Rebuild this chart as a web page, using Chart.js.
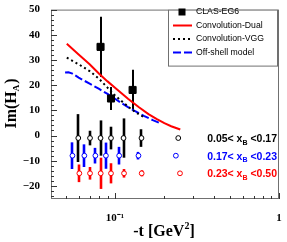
<!DOCTYPE html>
<html>
<head>
<meta charset="utf-8">
<script src="https://cdn.jsdelivr.net/npm/chart.js@4.4.1/dist/chart.umd.min.js"></script>
<style>
  html, body { margin: 0; padding: 0; background: #fff; }
</style>
</head>
<body>
<canvas id="grafico" width="287" height="242"></canvas>
<script>
// datos CLAS-EG6
const clasT = [0.0816, 0.0945, 0.128];
const clasImH = [35.2, 14.7, 18.1];
const clasErr = [12.0, 4.6, 8.0];

// modelos
const dualT = [0.0508, 0.06, 0.07, 0.08, 0.09, 0.1, 0.11, 0.12, 0.14, 0.16, 0.18, 0.2, 0.22, 0.25];
const dualImH = [36.4, 32.2, 28.3, 24.5, 21.5, 19.0, 16.7, 14.6, 11.2, 8.5, 6.5, 4.9, 3.7, 2.4];
const vggT = [0.0508, 0.06, 0.07, 0.08, 0.09, 0.1, 0.11, 0.12, 0.13, 0.14, 0.15];
const vggImH = [30.9, 28.3, 25.6, 22.5, 19.0, 15.9, 13.6, 11.5, 9.8, 8.4, 7.3];
const offT = [0.0496, 0.052, 0.055, 0.06, 0.07, 0.08, 0.09, 0.1, 0.11, 0.12, 0.13, 0.15, 0.17, 0.19];
const offImH = [25.0, 25.1, 24.6, 23.0, 20.6, 18.5, 16.5, 14.6, 12.8, 11.3, 10.0, 7.8, 6.1, 4.8];

// bines en xB (desplazados en el eje y)
const bin1T = [0.0597, 0.0704, 0.0816, 0.0945, 0.1127, 0.145, 0.243];
const bin1Y = [-1, -1, -1, -1, -1, -1, -1];
const bin1Err = [9.5, 2.9, 7.0, 4.5, 7.8, 3.5, 0];
const bin2T = [0.055, 0.065, 0.0759, 0.088, 0.106, 0.139, 0.235];
const bin2Y = [-8, -8, -8, -8, -8, -8, -8];
const bin2Err = [5.3, 4.5, 3.1, 5.2, 3.5, 1.5, 0];
const bin3T = [0.0606, 0.0704, 0.0818, 0.0945, 0.1135, 0.1454, 0.249];
const bin3Y = [-15, -15, -15, -15, -15, -15, -15];
const bin3Err = [3.5, 2.5, 6.2, 4.0, 1.7, 1.2, 0];
const binLabels = ["0.05< x|B| <0.17", "0.17< x|B| <0.23", "0.23< x|B| <0.50"];

// ticks
const ticksX = [0.05, 0.06, 0.07, 0.08, 0.09, 0.1, 0.2, 0.3, 0.4, 0.5, 0.6, 0.7, 0.8, 0.9, 1];
const ticksY = [];
for (let v = -24; v <= 50; v += 2) ticksY.push(v);

const pares = (xs, ys) => xs.map((t, i) => ({ x: t, y: ys[i] }));

const circulo = (color, data, err) => ({
  label: "",
  data: data,
  errY: err,
  errColor: color,
  errWidth: 2.6,
  pointStyle: "circle",
  pointRadius: 2.4,
  pointBorderWidth: 1,
  pointBorderColor: color,
  pointBackgroundColor: "#fff",
  showLine: false,
});

const serif = '"Liberation Serif", "Times New Roman", serif';
const sans = '"Liberation Sans", Arial, sans-serif';

const marco = {
  id: "marco",
  beforeDatasetsDraw(chart) {
    const { ctx, scales: { x, y } } = chart;
    chart.data.datasets.forEach((ds) => {
      if (!ds.errY) return;
      ctx.save();
      ctx.strokeStyle = ds.errColor;
      ctx.lineWidth = ds.errWidth;
      ds.data.forEach((p, i) => {
        const e = ds.errY[i];
        if (!e) return;
        const px = Math.round(x.getPixelForValue(p.x));
        ctx.beginPath();
        ctx.moveTo(px, y.getPixelForValue(p.y + e));
        ctx.lineTo(px, y.getPixelForValue(p.y - e));
        ctx.stroke();
      });
      ctx.restore();
    });
  },
  afterDraw(chart) {
    const { ctx, chartArea: a, scales: { x, y } } = chart;
    ctx.save();
    // caja
    ctx.strokeStyle = "#707070";
    ctx.lineWidth = 1;
    ctx.strokeRect(a.left + 0.5, a.top + 0.5, a.width - 1, a.height - 1);
    // ticks hacia dentro
    ctx.strokeStyle = "#333";
    ctx.beginPath();
    y.ticks.forEach((t) => {
      const py = Math.round(y.getPixelForValue(t.value)) + 0.5;
      const len = t.value % 10 === 0 ? 6 : 3;
      ctx.moveTo(a.left, py);
      ctx.lineTo(a.left + len, py);
    });
    x.ticks.forEach((t) => {
      const px = Math.round(x.getPixelForValue(t.value)) + 0.5;
      const len = t.value === 0.1 || t.value === 1 ? 6 : 3;
      ctx.moveTo(px, a.bottom);
      ctx.lineTo(px, a.bottom - len);
    });
    ctx.stroke();

    // titulo eje y
    ctx.fillStyle = "#000";
    ctx.save();
    ctx.translate(16, 104);
    ctx.rotate(-Math.PI / 2);
    ctx.font = "bold 16px " + serif;
    const w1 = ctx.measureText("Im(H").width;
    ctx.font = "bold 9px " + serif;
    const w2 = ctx.measureText("A").width;
    ctx.font = "bold 16px " + serif;
    const w3 = ctx.measureText(")").width;
    let sx = -(w1 + w2 + w3) / 2;
    ctx.textBaseline = "alphabetic";
    ctx.fillText("Im(H", sx, 0);
    ctx.font = "bold 9px " + serif;
    ctx.fillText("A", sx + w1, 3);
    ctx.font = "bold 16px " + serif;
    ctx.fillText(")", sx + w1 + w2 + 1, 0);
    ctx.restore();

    // titulo eje x
    ctx.font = "bold 16px " + serif;
    const a1 = ctx.measureText("-t [GeV").width;
    ctx.font = "bold 10px " + serif;
    const a2 = ctx.measureText("2").width;
    ctx.font = "bold 16px " + serif;
    const a3 = ctx.measureText("]").width;
    let tx = 164 - (a1 + a2 + a3) / 2;
    ctx.fillText("-t [GeV", tx, 236);
    ctx.font = "bold 10px " + serif;
    ctx.fillText("2", tx + a1, 229);
    ctx.font = "bold 16px " + serif;
    ctx.fillText("]", tx + a1 + a2, 236);

    // etiquetas de bines
    const colores = ["#000", "#0000ff", "#ff0000"];
    const centros = [bin1Y[0], bin2Y[0], bin3Y[0]];
    binLabels.forEach((txt, i) => {
      const [p1, sub, p2] = txt.split("|");
      const big = "bold 10.5px " + sans, small = "bold 7px " + sans;
      ctx.font = big;
      const b1 = ctx.measureText(p1).width, b3 = ctx.measureText(p2).width;
      ctx.font = small;
      const b2 = ctx.measureText(sub).width;
      const right = a.right - 2;
      const py = y.getPixelForValue(centros[i]) + 4;
      const start = right - b1 - b2 - b3;
      ctx.fillStyle = colores[i];
      ctx.font = big;
      ctx.fillText(p1, start, py);
      ctx.font = small;
      ctx.fillText(sub, start + b1, py + 2.5);
      ctx.font = big;
      ctx.fillText(p2, start + b1 + b2, py);
    });

    // leyenda
    const lx = 168, ly = a.top, lw = a.right - 1 - lx, lh = 56;
    ctx.fillStyle = "#fff";
    ctx.fillRect(lx, ly, lw, lh);
    ctx.strokeStyle = "#707070";
    ctx.strokeRect(lx + 0.5, ly + 0.5, lw - 1, lh);
    const filas = [12, 25.5, 39, 52.5];
    const ds = chart.data.datasets;
    ctx.font = "8.7px " + sans;
    ctx.textBaseline = "middle";
    ctx.fillStyle = "#000";
    ctx.fillRect(178.5, filas[0] - 3.5, 7, 7);
    ctx.fillText(ds[0].label, 196, filas[0]);
    [1, 2, 3].forEach((k) => {
      const d = ds[k];
      ctx.strokeStyle = d.borderColor;
      ctx.lineWidth = 2;
      ctx.setLineDash(d.borderDash || []);
      ctx.beginPath();
      ctx.moveTo(173, filas[k]);
      ctx.lineTo(192, filas[k]);
      ctx.stroke();
      ctx.setLineDash([]);
      ctx.fillStyle = "#000";
      ctx.fillText(d.label, 196, filas[k]);
    });
    ctx.restore();
  },
};

const ctx = document.getElementById("grafico").getContext("2d");
new Chart(ctx, {
  type: "scatter",
  data: {
    datasets: [
      {
        label: "CLAS-EG6",
        data: pares(clasT, clasImH),
        errY: clasErr,
        errColor: "#000",
        errWidth: 2,
        pointStyle: "rect",
        pointRadius: 5,
        pointBackgroundColor: "#000",
        pointBorderColor: "#000",
        showLine: false,
        order: 0,
      },
      {
        label: "Convolution-Dual",
        data: pares(dualT, dualImH),
        borderColor: "#ff0000",
        borderWidth: 2,
        showLine: true,
        pointRadius: 0,
        order: 3,
      },
      {
        label: "Convolution-VGG",
        data: pares(vggT, vggImH),
        borderColor: "#000",
        borderWidth: 2,
        borderDash: [2, 3],
        showLine: true,
        pointRadius: 0,
        order: 4,
      },
      {
        label: "Off-shell model",
        data: pares(offT, offImH),
        borderColor: "#0000ff",
        borderWidth: 2,
        borderDash: [8, 3],
        showLine: true,
        pointRadius: 0,
        order: 5,
      },
      circulo("#000", pares(bin1T, bin1Y), bin1Err),
      circulo("#0000ff", pares(bin2T, bin2Y), bin2Err),
      circulo("#ff0000", pares(bin3T, bin3Y), bin3Err),
    ],
  },
  options: {
    responsive: false,
    animation: false,
    layout: { padding: { top: 5, right: 8, left: 0, bottom: 0 } },
    plugins: { legend: { display: false }, tooltip: { enabled: false } },
    scales: {
      x: {
        type: "logarithmic",
        min: 0.0407,
        max: 1,
        bounds: "data",
        afterBuildTicks: (s) => { s.ticks = ticksX.map((v) => ({ value: v })); },
        afterFit: (s) => { s.height = 43; },
        grid: { display: false },
        border: { display: false },
        ticks: {
          autoSkip: false,
          maxRotation: 0,
          padding: 5,
          color: "#000",
          font: { family: serif, size: 11, weight: "bold" },
          callback: (v) => (v === 0.1 ? "10\u207B\u00B9" : v === 1 ? "1" : ""),
        },
      },
      y: {
        min: -25.2,
        max: 50,
        bounds: "data",
        afterBuildTicks: (s) => { s.ticks = ticksY.map((v) => ({ value: v })); },
        afterFit: (s) => { s.width = 51; },
        grid: { display: false },
        border: { display: false },
        ticks: {
          autoSkip: false,
          padding: 3,
          color: "#000",
          font: { family: serif, size: 11, weight: "bold" },
          callback: (v) => (v % 10 === 0 ? (v < 0 ? "\u2212" + Math.abs(v) : String(v)) : ""),
        },
      },
    },
  },
  plugins: [marco],
});
</script>
</body>
</html>
